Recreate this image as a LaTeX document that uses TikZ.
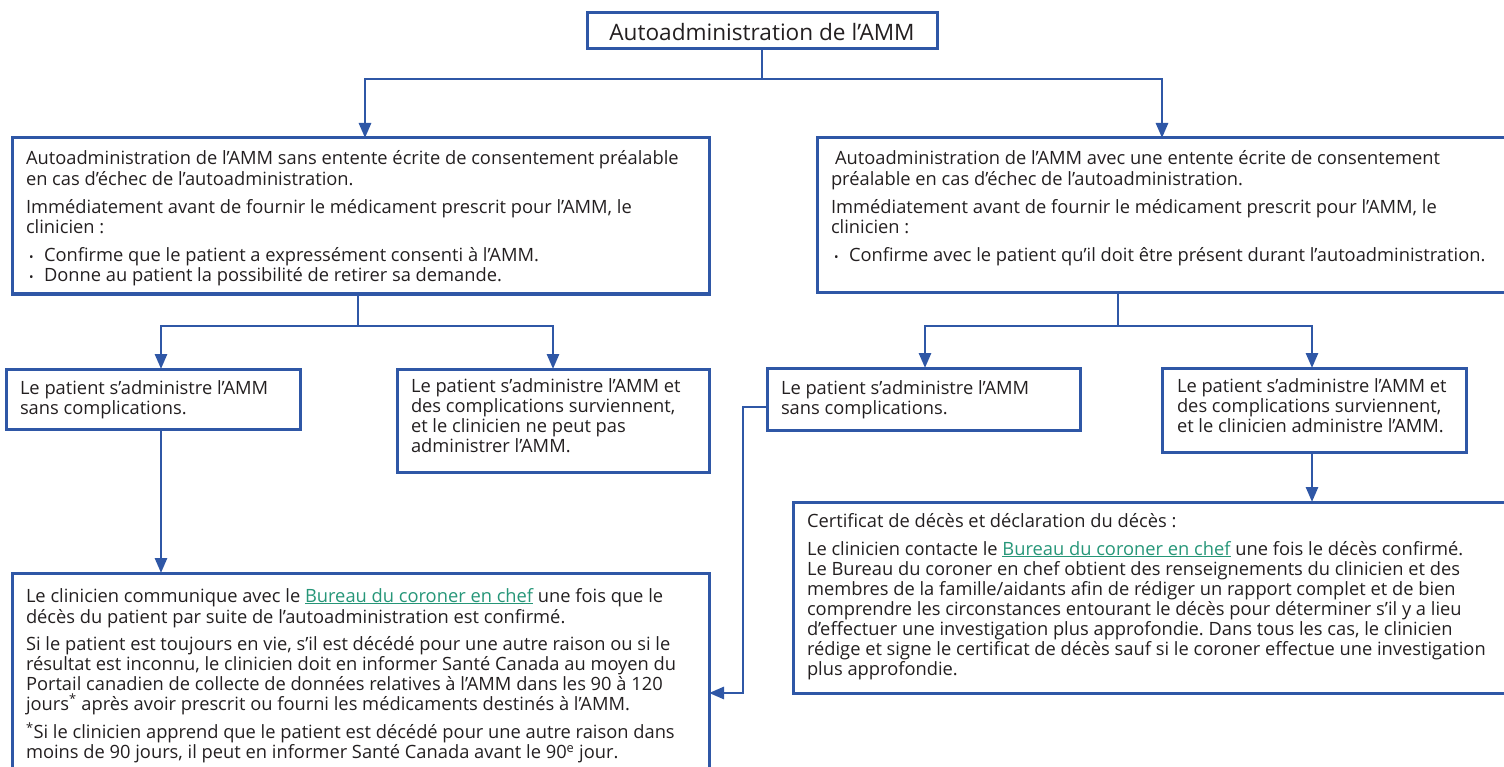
\documentclass[tikz,border=0pt]{standalone}
\usepackage{fontspec}
\setmainfont{Open Sans}
\usetikzlibrary{arrows.meta,calc}
\definecolor{bblue}{RGB}{47,87,166}
\definecolor{ink}{RGB}{35,31,32}
\definecolor{linkc}{RGB}{38,150,120}
\newcommand{\lnk}[1]{\textcolor{linkc}{\underline{#1}}}
\newcommand{\bul}{\makebox[18pt][l]{\hspace{3pt}{\fontsize{12}{12}\selectfont •}}}
\frenchspacing
\begin{document}
\begin{tikzpicture}[x=1pt,y=-1pt,
  box/.style={draw=bblue, line width=3pt, rectangle, inner sep=0pt, outer sep=0pt, anchor=north west},
  txt/.style={anchor=north west, inner sep=0pt, outer sep=0pt, align=left, font=\fontsize{18.3}{20}\selectfont\frenchspacing, text=ink},
  ln/.style={draw=bblue, line width=2.8pt},
  arr/.style={ln, -{Triangle[width=12pt,length=15pt]}}]
\useasboundingbox (0,0) rectangle (1504,767);
\clip (0,0) rectangle (1504,767);

% boxes
\node[box, minimum width=350pt, minimum height=36pt] (top) at (587,13) {};
\node[font=\fontsize{22.6}{26}\selectfont, text=ink, inner sep=0pt] (toptxt) at ($(top.center)+(0,1)$) {Autoadministration de l’AMM};
\node[box, minimum width=697pt, minimum height=156pt] (b1) at (12,138) {};
\node[box, minimum width=689pt, minimum height=155pt] (b2) at (817,138) {};
\node[box, minimum width=294pt, minimum height=60pt] (la) at (6,369) {};
\node[box, minimum width=312pt, minimum height=103pt] (lb) at (397,369) {};
\node[box, minimum width=313pt, minimum height=62pt] (ra) at (767,368) {};
\node[box, minimum width=304pt, minimum height=84pt] (rb) at (1162,368) {};
\node[box, minimum width=713pt, minimum height=191pt] (cert) at (793,502) {};
\node[box, minimum width=697pt, minimum height=196pt] (bot) at (12,573) {};

% texts
\node[txt] (b1t) at (26,150) {\strut Autoadministration de l’AMM sans entente écrite de consentement préalable\\
en cas d’échec de l’autoadministration.\\[8pt]
Immédiatement avant de fournir le médicament prescrit pour l’AMM, le\\
clinicien :\\[8pt]
\bul Confirme que le patient a expressément consenti à l’AMM.\\
\bul Donne au patient la possibilité de retirer sa demande.};

\node[txt] (b2t) at (831,150) {\strut\hspace{4pt}Autoadministration de l’AMM avec une entente écrite de consentement\\
préalable en cas d’échec de l’autoadministration.\\[8pt]
Immédiatement avant de fournir le médicament prescrit pour l’AMM, le\\
clinicien :\\[8pt]
\bul Confirme avec le patient qu’il doit être présent durant l’autoadministration.};

\node[txt] (lat) at (20,380) {\strut Le patient s’administre l’AMM\\ sans complications.};
\node[txt] (lbt) at (411,378) {\strut Le patient s’administre l’AMM et\\ des complications surviennent,\\ et le clinicien ne peut pas\\ administrer l’AMM.};
\node[txt] (rat) at (781,380) {\strut Le patient s’administre l’AMM\\ sans complications.};
\node[txt] (rbt) at (1177,378) {\strut Le patient s’administre l’AMM et\\ des complications surviennent,\\ et le clinicien administre l’AMM.};

\node[txt] (certt) at (807,513) {\strut Certificat de décès et déclaration du décès :\\[7pt]
Le clinicien contacte le \lnk{Bureau du coroner en chef} une fois le décès confirmé.\\
Le Bureau du coroner en chef obtient des renseignements du clinicien et des\\
membres de la famille/aidants afin de rédiger un rapport complet et de bien\\
comprendre les circonstances entourant le décès pour déterminer s’il y a lieu\\
d’effectuer une investigation plus approfondie. Dans tous les cas, le clinicien\\
rédige et signe le certificat de décès sauf si le coroner effectue une investigation\\
plus approfondie.};

\node[txt] (bott) at (26,588) {\strut Le clinicien communique avec le \lnk{Bureau du coroner en chef} une fois que le\\
décès du patient par suite de l’autoadministration est confirmé.\\[7pt]
Si le patient est toujours en vie, s’il est décédé pour une autre raison ou si le\\
résultat est inconnu, le clinicien doit en informer Santé Canada au moyen du\\
Portail canadien de collecte de données relatives à l’AMM dans les 90 à 120\\
jours\textsuperscript{*} après avoir prescrit ou fourni les médicaments destinés à l’AMM.\\[7pt]
\textsuperscript{*}Si le clinicien apprend que le patient est décédé pour une autre raison dans\\
moins de 90 jours, il peut en informer Santé Canada avant le 90\textsuperscript{e} jour.};

% junction coordinates
\coordinate (j0) at (762,79);
\coordinate (j1) at (358,326);
\coordinate (j2) at (1118,326);
\coordinate (k1) at (743,407);
\coordinate (k2) at (743,693);

% connectors
\draw[ln] (top.south) -- (j0);
\draw[arr] (j0) -| (365,138);
\draw[arr] (j0) -| (1162,138);
\draw[ln] (j1 |- b1.south) -- (j1);
\draw[arr] (j1) -| (161,369);
\draw[arr] (j1) -| (553,369);
\draw[ln] (j2 |- b2.south) -- (j2);
\draw[arr] (j2) -| (925,368);
\draw[arr] (j2) -| (1312,368);
\draw[arr] (1312,452) -- (1312,502);
\draw[arr] (161,429) -- (161,573);
\draw[arr] (ra.west |- k1) -- (k1) -- (k2) -- (bot.east |- k2);
\end{tikzpicture}
\end{document}
